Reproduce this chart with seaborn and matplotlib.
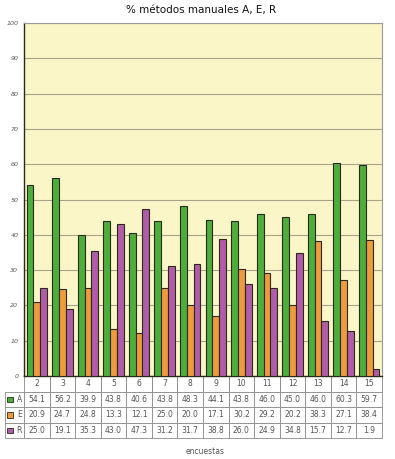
import pandas as pd
import numpy as np
import matplotlib
matplotlib.use('Agg')
import matplotlib.pyplot as plt
import seaborn as sns
from matplotlib.patches import Rectangle

encuestas = ['2', '3', '4', '5', '6', '7', '8', '9', '10', '11', '12', '13', '14', '15']
metodo_a = [54.1, 56.2, 39.9, 43.8, 40.6, 43.8, 48.3, 44.1, 43.8, 46.0, 45.0, 46.0, 60.3, 59.7]
metodo_e = [20.9, 24.7, 24.8, 13.3, 12.1, 25.0, 20.0, 17.1, 30.2, 29.2, 20.2, 38.3, 27.1, 38.4]
metodo_r = [25.0, 19.1, 35.3, 43.0, 47.3, 31.2, 31.7, 38.8, 26.0, 24.9, 34.8, 15.7, 12.7, 1.9]
series = ['A', 'E', 'R']
colors = ['#4DAE3C', '#EF9A3C', '#B05CA8']

df = pd.DataFrame({'encuesta': encuestas * 3,
                   'serie': ['A'] * 14 + ['E'] * 14 + ['R'] * 14,
                   'valor': metodo_a + metodo_e + metodo_r})

sns.set_style('white')
plt.rcParams['font.family'] = ['DejaVu Sans']

W, H = 395, 459
fig = plt.figure(figsize=(W / 100, H / 100), dpi=100)
L, R, T, B = 24, 382, 23, 376
ax = fig.add_axes([L / W, 1 - B / H, (R - L) / W, (B - T) / H])
ax.set_facecolor('#FAF6C8')

sns.barplot(data=df, x='encuesta', y='valor', hue='serie', order=encuestas,
            hue_order=series, palette=colors, width=0.8, edgecolor='#2a2a1a',
            linewidth=0.8, saturation=1, legend=False, ax=ax, zorder=3)

ax.set_ylim(0, 100)
ax.set_xlim(-0.5, len(encuestas) - 0.5)
ax.set_yticks(range(0, 101, 10))
ax.set_yticklabels([str(v) for v in range(0, 101, 10)], fontsize=4.5,
                   style='italic', color='#555555')
ax.tick_params(axis='y', length=2, width=0.6, pad=2, colors='#555555')
ax.set_xticks([])
ax.set_xlabel('')
ax.set_ylabel('')
ax.grid(axis='y', color='#A8A488', linewidth=0.8, zorder=0)
ax.set_axisbelow(True)

for side in ['left', 'bottom']:
    ax.spines[side].set_color('#2a2a1a')
    ax.spines[side].set_linewidth(1.0)
for side in ['top', 'right']:
    ax.spines[side].set_color('#9a9a9a')
    ax.spines[side].set_linewidth(0.8)

fig.text(0.51, 1 - 10 / H, '% métodos manuales A, E, R', ha='center', va='center',
         fontsize=7.5, color='#111111')

# data table under the axis
cell_text = [[''] + encuestas]
for name, vals in zip(series, [metodo_a, metodo_e, metodo_r]):
    cell_text.append([name] + ['%.1f' % v for v in vals])

ax_w = R - L
lab_w = (L - 5) / ax_w
col_w = 1.0 / len(encuestas)
tbl_h = (438 - B) / (B - T)
tbl = ax.table(cellText=cell_text, colWidths=[lab_w] + [col_w] * len(encuestas),
               bbox=[-lab_w, -tbl_h, 1 + lab_w, tbl_h], cellLoc='center')
tbl.auto_set_font_size(False)
tbl.set_fontsize(5.5)
for (r, c), cell in tbl.get_celld().items():
    cell.set_edgecolor('#8a8a8a')
    cell.set_linewidth(0.6)
    cell.get_text().set_color('#555555')
    if r == 0 and c == 0:
        cell.visible_edges = ''
    elif r == 0:
        cell.visible_edges = 'BRL'
    if c == 0 and r > 0:
        cell.get_text().set_ha('right')
        cell._loc = 'right'

# colored keys in the row labels
row_h = tbl_h / 4
for i, col in enumerate(colors):
    yc = -row_h * (i + 1.5)
    ax.add_patch(Rectangle((-lab_w + 2 / ax_w, yc - 2.8 / (B - T)), 5.5 / ax_w, 5.5 / (B - T),
                           transform=ax.transAxes, facecolor=col, edgecolor='#2a2a1a',
                           linewidth=0.6, clip_on=False, zorder=5))

fig.text(205 / W, 1 - 451 / H, 'encuestas', ha='center', va='center',
         fontsize=5.5, color='#555555')

fig.savefig('out.png', dpi=100, facecolor='white')
